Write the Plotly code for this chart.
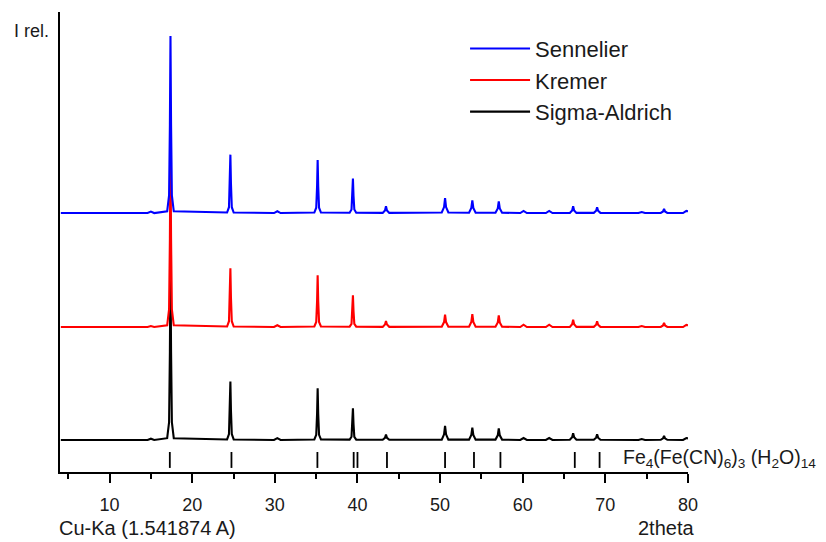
import plotly.graph_objects as go

# shared 2theta sample positions (deg)
two_theta = [
    4.1,
    14.6, 15.0, 15.4,
    16.97, 17.2, 17.3, 17.37, 17.44, 17.54, 17.77,
    24.22, 24.45, 24.55, 24.62, 24.69, 24.79, 25.02,
    29.9, 30.3, 30.7,
    34.78, 35.01, 35.11, 35.18, 35.25, 35.35, 35.58,
    39.05, 39.28, 39.38, 39.45, 39.52, 39.62, 39.85,
    43.05, 43.33, 43.45, 43.57, 43.85,
    50.2, 50.48, 50.6, 50.72, 51.0,
    53.5, 53.78, 53.9, 54.02, 54.3,
    56.7, 56.98, 57.1, 57.22, 57.5,
    59.7, 60.1, 60.5,
    62.8, 63.2, 63.6,
    65.7, 65.98, 66.1, 66.22, 66.5,
    68.6, 68.88, 69.0, 69.12, 69.4,
    74.0, 74.4, 74.8,
    76.7, 76.98, 77.1, 77.22, 77.5,
    79.4, 79.8, 80.0,
]

# relative intensities (%)
sennelier = [
    0,
    0, 0.8, 0,
    1, 10, 50, 100, 50, 10, 1,
    0.3, 3.3, 16.5, 33, 16.5, 3.3, 0.3,
    0, 1.0, 0,
    0.3, 3, 15, 30, 15, 3, 0.3,
    0.2, 2, 9.8, 19.5, 9.8, 2, 0.2,
    0.1, 1.5, 3.8, 1.5, 0.1,
    0.3, 3.4, 8.5, 3.4, 0.3,
    0.2, 2.9, 7.2, 2.9, 0.2,
    0.2, 2.6, 6.6, 2.6, 0.2,
    0, 1.2, 0,
    0, 1.2, 0,
    0.1, 1.5, 3.8, 1.5, 0.1,
    0.1, 1.3, 3.2, 1.3, 0.1,
    0, 0.6, 0,
    0.1, 0.9, 2.3, 0.9, 0.1,
    0, 1.2, 1.0,
]

kremer = [
    0,
    0, 0.6, 0,
    1, 10, 50, 100, 50, 10, 1,
    0.3, 3.3, 16.6, 33.2, 16.6, 3.3, 0.3,
    0, 1.0, 0,
    0.3, 2.9, 14.6, 29.2, 14.6, 2.9, 0.3,
    0.2, 1.8, 9.0, 17.9, 9.0, 1.8, 0.2,
    0.1, 1.4, 3.4, 1.4, 0.1,
    0.2, 2.8, 7.0, 2.8, 0.2,
    0.2, 2.9, 7.3, 2.9, 0.2,
    0.2, 2.6, 6.6, 2.6, 0.2,
    0, 1.3, 0,
    0, 1.3, 0,
    0.1, 1.6, 4.1, 1.6, 0.1,
    0.1, 1.3, 3.2, 1.3, 0.1,
    0, 0.6, 0,
    0.1, 0.9, 2.3, 0.9, 0.1,
    0, 1.2, 1.0,
]

sigma_aldrich = [
    0,
    0, 0.7, 0,
    1, 10, 50, 100, 50, 10, 1,
    0.3, 3.3, 16.5, 33, 16.5, 3.3, 0.3,
    0, 1.0, 0,
    0.3, 2.9, 14.6, 29.2, 14.6, 2.9, 0.3,
    0.2, 1.8, 9.0, 17.9, 9.0, 1.8, 0.2,
    0.1, 1.2, 3.0, 1.2, 0.1,
    0.2, 3.2, 7.9, 3.2, 0.2,
    0.2, 2.8, 7.0, 2.8, 0.2,
    0.2, 2.6, 6.6, 2.6, 0.2,
    0, 1.1, 0,
    0, 1.1, 0,
    0.1, 1.5, 3.8, 1.5, 0.1,
    0.1, 1.3, 3.2, 1.3, 0.1,
    0, 0.5, 0,
    0.1, 0.9, 2.3, 0.9, 0.1,
    0, 1.1, 0.9,
]

# reference pattern line positions (2theta)
ref_positions = [17.29, 24.75, 35.15, 39.54, 40.0, 43.57, 50.6, 54.1, 57.3, 66.3, 69.3]

x_ticks = [10, 20, 30, 40, 50, 60, 70, 80]
x_tick_labels = ["10", "20", "30", "40", "50", "60", "70", "80"]
x_minor_ticks = [5, 15, 25, 35, 45, 55, 65, 75]

# vertical stacking offsets (layout)
OFF_SIGMA, OFF_KREMER, OFF_SENN = 18.1, 81.9, 146.3
REF_LO, REF_HI = 2.3, 11.3

FONT = "Arial, Liberation Sans, sans-serif"
TXT = "#1a1a1a"

fig = go.Figure()
series = [
    ("Sigma-Aldrich", sigma_aldrich, OFF_SIGMA, "#000000"),
    ("Kremer", kremer, OFF_KREMER, "#ff0000"),
    ("Sennelier", sennelier, OFF_SENN, "#0000ff"),
]
for name, vals, off, col in series:
    fig.add_trace(go.Scatter(
        x=two_theta, y=[v + off for v in vals], mode="lines", name=name,
        line=dict(color=col, width=2.1), legendgroup=name,
    ))

rx, ry = [], []
for p in ref_positions:
    rx += [p, p, None]
    ry += [REF_LO, REF_HI, None]
fig.add_trace(go.Scatter(x=rx, y=ry, mode="lines", line=dict(color="black", width=1.8),
                         showlegend=False, hoverinfo="skip"))

fig.update_layout(
    width=818, height=534,
    margin=dict(l=52, r=138, t=4, b=70),
    paper_bgcolor="white", plot_bgcolor="white",
    font=dict(family=FONT, size=18, color=TXT),
    showlegend=True,
    legend=dict(x=0.645, y=0.966, xanchor="left", yanchor="top", traceorder="reversed",
                font=dict(size=22, color=TXT), bgcolor="rgba(0,0,0,0)",
                itemwidth=60, tracegroupgap=7.5),
    xaxis=dict(range=[4, 80], tickvals=x_ticks, ticktext=x_tick_labels,
               tickfont=dict(size=18, color=TXT),
               showline=True, linecolor="black", linewidth=2, showgrid=False, zeroline=False,
               ticks="outside", ticklen=9, tickwidth=1.6, tickcolor="black",
               ticklabelstandoff=6,
               minor=dict(ticks="outside", ticklen=5, tickwidth=1.6, tickcolor="black",
                          tickvals=x_minor_ticks)),
    yaxis=dict(range=[0, 259.9], showline=True, linecolor="black", linewidth=2,
               showgrid=False, zeroline=False, showticklabels=False, ticks=""),
    annotations=[
        dict(text="I rel.", xref="paper", yref="paper", x=-0.0764, y=0.9587,
             xanchor="left", yanchor="middle", showarrow=False, font=dict(size=18, color=TXT)),
        dict(text="Cu-Ka (1.541874 A)", xref="paper", yref="paper", x=-0.0048, y=-0.15,
             xanchor="left", yanchor="bottom", showarrow=False, font=dict(size=20, color=TXT)),
        dict(text="2theta", xref="paper", yref="paper", x=1.0127, y=-0.15,
             xanchor="right", yanchor="bottom", showarrow=False, font=dict(size=20, color=TXT)),
        dict(text="Fe<sub>4</sub>(Fe(CN)<sub>6</sub>)<sub>3</sub> (H<sub>2</sub>O)<sub>14</sub>",
             xref="paper", yref="paper", x=0.8933, y=0.0283,
             xanchor="left", yanchor="middle", showarrow=False, font=dict(size=19.5, color=TXT)),
    ],
)

fig.write_html("out.html")
